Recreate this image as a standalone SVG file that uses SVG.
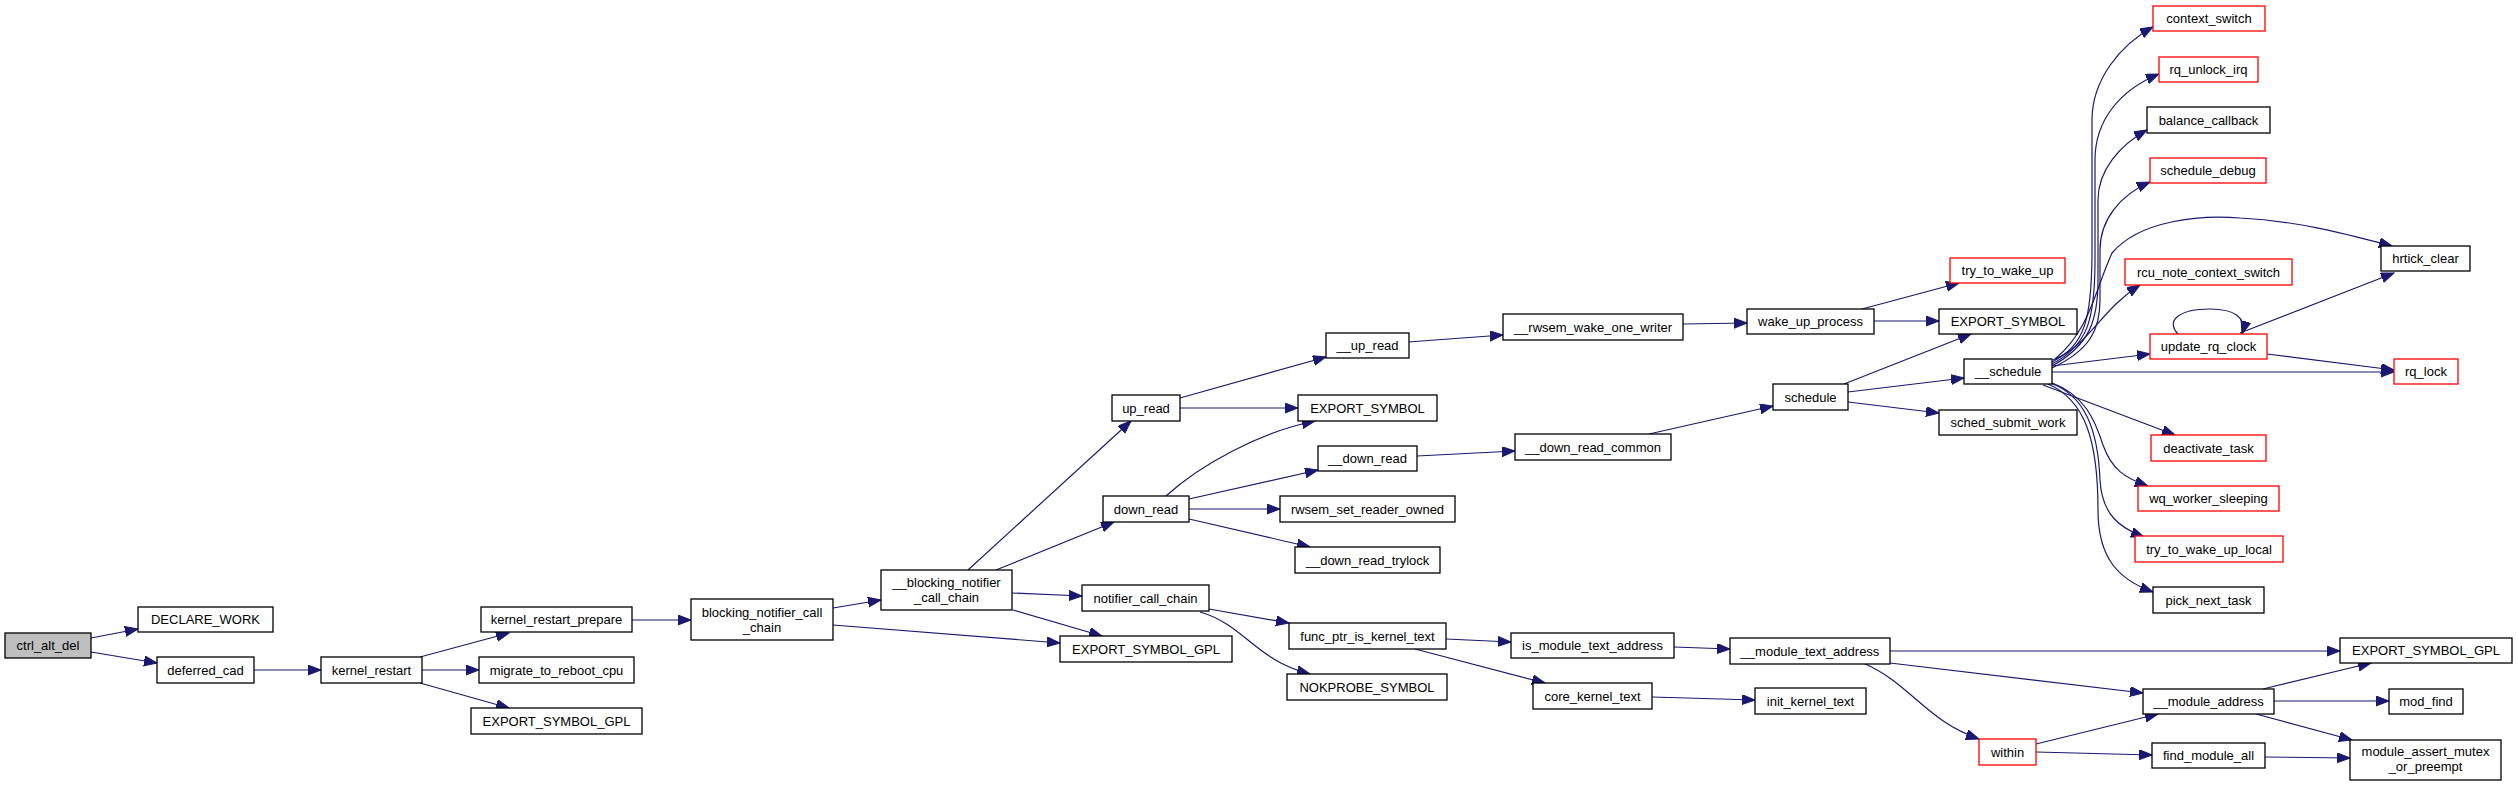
<svg xmlns="http://www.w3.org/2000/svg" width="2517" height="786" viewBox="0 0 2517 786">
<defs>
<style>
.n rect{fill:#fff;stroke:#000;stroke-width:1.3}
.n.r rect{stroke:#ff0000}
.n.g rect{fill:#bfbfbf}
.n text{font-family:"Liberation Sans",Arial,sans-serif;font-size:13px;fill:#000;text-anchor:middle}
#edges path{fill:none;stroke:#191970;stroke-width:1.2;marker-end:url(#ah)}
</style>
<marker id="ah" markerUnits="userSpaceOnUse" markerWidth="14" markerHeight="11" refX="13" refY="5" orient="auto">
<path d="M0,0 L13,5 L0,10 z" fill="#191970" stroke="#191970" stroke-width="1"/>
</marker>
</defs>
<rect width="2517" height="786" fill="#fff"/>
<g id="edges">
<path d="M91,638 L138,629"/>
<path d="M91,652 L157,663"/>
<path d="M254,670 L321,670"/>
<path d="M420,657 L509,633"/>
<path d="M422,670 L479,670"/>
<path d="M420,683 L509,708"/>
<path d="M632,620 L691,620"/>
<path d="M833,608 L881,600"/>
<path d="M833,625 L1060,643"/>
<path d="M968,570 L1131,421"/>
<path d="M996,570 L1114,522"/>
<path d="M1012,593 L1082,596"/>
<path d="M1013,610 L1102,636"/>
<path d="M1180,398 L1326,357"/>
<path d="M1180,408 L1298,408"/>
<path d="M1166,496 C1200,465 1260,432 1315,421"/>
<path d="M1189,499 L1318,470"/>
<path d="M1189,509 L1280,509"/>
<path d="M1189,519 L1310,547"/>
<path d="M1209,609 L1289,623"/>
<path d="M1200,612 C1245,625 1255,660 1310,674"/>
<path d="M1408,342 L1503,335"/>
<path d="M1683,324 L1747,323"/>
<path d="M1862,309 L1959,283"/>
<path d="M1874,321 L1939,321"/>
<path d="M1417,456 L1515,451"/>
<path d="M1649,434 L1773,406"/>
<path d="M1844,384 L1971,334"/>
<path d="M1848,392 L1964,378"/>
<path d="M1848,402 L1939,413"/>
<path d="M1446,639 L1511,642"/>
<path d="M1415,649 L1545,683"/>
<path d="M1674,647 L1730,649"/>
<path d="M1652,697 L1755,700"/>
<path d="M1890,651 L2340,651"/>
<path d="M1890,663 L2143,693"/>
<path d="M1863,663 C1910,683 1925,720 1979,739"/>
<path d="M2263,689 L2371,663"/>
<path d="M2274,701 L2389,701"/>
<path d="M2256,714 L2352,740"/>
<path d="M2036,744 L2158,714"/>
<path d="M2036,752 L2152,755"/>
<path d="M2265,757 L2350,758"/>
<path d="M2052,362 C2085,345 2092,320 2092,250 L2092,120 C2092,80 2120,45 2153,27"/>
<path d="M2052,364 C2088,345 2095,320 2095,260 L2095,160 C2095,120 2120,90 2159,74"/>
<path d="M2052,366 C2090,345 2098,320 2098,280 L2098,200 C2098,170 2120,145 2147,130"/>
<path d="M2052,368 C2090,350 2100,330 2100,300 L2100,250 C2100,220 2120,195 2150,182"/>
<path d="M2055,359 C2090,330 2095,290 2112,253 C2140,220 2200,215 2240,218 C2300,221 2350,235 2392,246"/>
<path d="M2053,360 C2090,345 2100,310 2140,285"/>
<path d="M2052,366 L2150,354"/>
<path d="M2052,372 L2394,372"/>
<path d="M2267,354 L2394,370"/>
<path d="M2240,333 L2394,273"/>
<path d="M2178,334 C2165,320 2180,309 2210,309 C2235,309 2247,318 2242,334"/>
<path d="M2043,385 L2175,435"/>
<path d="M2050,382 C2085,395 2095,420 2103,445 C2112,470 2125,478 2148,486"/>
<path d="M2050,383 C2085,395 2098,430 2100,480 C2102,515 2120,528 2144,537"/>
<path d="M2048,384 C2085,400 2098,440 2098,510 C2098,560 2120,580 2153,592"/>
</g>
<g id="ctrl_alt_del" class="n g"><rect x="5" y="633" width="86" height="25"/><text x="48" y="650">ctrl_alt_del</text></g>
<g id="DECLARE_WORK" class="n"><rect x="138" y="607" width="135" height="25"/><text x="205.5" y="624">DECLARE_WORK</text></g>
<g id="deferred_cad" class="n"><rect x="157" y="657" width="97" height="26"/><text x="205.5" y="674.5">deferred_cad</text></g>
<g id="kernel_restart" class="n"><rect x="321" y="657" width="101" height="26"/><text x="371.5" y="674.5">kernel_restart</text></g>
<g id="kernel_restart_prepare" class="n"><rect x="481" y="607" width="151" height="25"/><text x="556.5" y="624">kernel_restart_prepare</text></g>
<g id="migrate_to_reboot_cpu" class="n"><rect x="479" y="657" width="155" height="26"/><text x="556.5" y="674.5">migrate_to_reboot_cpu</text></g>
<g id="EXPORT_SYMBOL_GPL_a" class="n"><rect x="471" y="708" width="171" height="26"/><text x="556.5" y="725.5">EXPORT_SYMBOL_GPL</text></g>
<g id="blocking_notifier_call_chain" class="n"><rect x="691" y="599" width="142" height="41"/><text x="762" y="616.5">blocking_notifier_call</text><text x="762" y="631.5">_chain</text></g>
<g id="__blocking_notifier_call_chain" class="n"><rect x="881" y="570" width="131" height="40"/><text x="946.5" y="586.5">__blocking_notifier</text><text x="946.5" y="601.5">_call_chain</text></g>
<g id="up_read" class="n"><rect x="1112" y="395" width="68" height="26"/><text x="1146" y="412.5">up_read</text></g>
<g id="down_read" class="n"><rect x="1103" y="496" width="86" height="26"/><text x="1146" y="513.5">down_read</text></g>
<g id="notifier_call_chain" class="n"><rect x="1082" y="585" width="127" height="26"/><text x="1145.5" y="602.5">notifier_call_chain</text></g>
<g id="EXPORT_SYMBOL_GPL_b" class="n"><rect x="1060" y="636" width="172" height="26"/><text x="1146" y="653.5">EXPORT_SYMBOL_GPL</text></g>
<g id="__up_read" class="n"><rect x="1326" y="333" width="83" height="25"/><text x="1367.5" y="350">__up_read</text></g>
<g id="EXPORT_SYMBOL_a" class="n"><rect x="1298" y="395" width="139" height="26"/><text x="1367.5" y="412.5">EXPORT_SYMBOL</text></g>
<g id="__down_read" class="n"><rect x="1318" y="446" width="99" height="25"/><text x="1367.5" y="463">__down_read</text></g>
<g id="rwsem_set_reader_owned" class="n"><rect x="1280" y="496" width="175" height="26"/><text x="1367.5" y="513.5">rwsem_set_reader_owned</text></g>
<g id="__down_read_trylock" class="n"><rect x="1295" y="547" width="145" height="26"/><text x="1367.5" y="564.5">__down_read_trylock</text></g>
<g id="func_ptr_is_kernel_text" class="n"><rect x="1289" y="623" width="157" height="26"/><text x="1367.5" y="640.5">func_ptr_is_kernel_text</text></g>
<g id="NOKPROBE_SYMBOL" class="n"><rect x="1287" y="674" width="160" height="26"/><text x="1367" y="691.5">NOKPROBE_SYMBOL</text></g>
<g id="__rwsem_wake_one_writer" class="n"><rect x="1503" y="314" width="180" height="26"/><text x="1593" y="331.5">__rwsem_wake_one_writer</text></g>
<g id="__down_read_common" class="n"><rect x="1515" y="434" width="156" height="26"/><text x="1593" y="451.5">__down_read_common</text></g>
<g id="is_module_text_address" class="n"><rect x="1511" y="633" width="163" height="25"/><text x="1592.5" y="650">is_module_text_address</text></g>
<g id="core_kernel_text" class="n"><rect x="1533" y="683" width="119" height="26"/><text x="1592.5" y="700.5">core_kernel_text</text></g>
<g id="wake_up_process" class="n"><rect x="1747" y="309" width="127" height="25"/><text x="1810.5" y="326">wake_up_process</text></g>
<g id="schedule" class="n"><rect x="1773" y="384" width="75" height="26"/><text x="1810.5" y="401.5">schedule</text></g>
<g id="__module_text_address" class="n"><rect x="1730" y="638" width="160" height="26"/><text x="1810" y="655.5">__module_text_address</text></g>
<g id="init_kernel_text" class="n"><rect x="1755" y="688" width="111" height="26"/><text x="1810.5" y="705.5">init_kernel_text</text></g>
<g id="try_to_wake_up" class="n r"><rect x="1950" y="258" width="115" height="25"/><text x="2007.5" y="275">try_to_wake_up</text></g>
<g id="EXPORT_SYMBOL_b" class="n"><rect x="1939" y="309" width="138" height="25"/><text x="2008" y="326">EXPORT_SYMBOL</text></g>
<g id="__schedule" class="n"><rect x="1964" y="359" width="88" height="25"/><text x="2008" y="376">__schedule</text></g>
<g id="sched_submit_work" class="n"><rect x="1939" y="410" width="138" height="25"/><text x="2008" y="427">sched_submit_work</text></g>
<g id="within" class="n r"><rect x="1979" y="739" width="57" height="26"/><text x="2007.5" y="756.5">within</text></g>
<g id="context_switch" class="n r"><rect x="2153" y="6" width="112" height="25"/><text x="2209" y="23">context_switch</text></g>
<g id="rq_unlock_irq" class="n r"><rect x="2159" y="57" width="99" height="25"/><text x="2208.5" y="74">rq_unlock_irq</text></g>
<g id="balance_callback" class="n"><rect x="2147" y="107" width="123" height="26"/><text x="2208.5" y="124.5">balance_callback</text></g>
<g id="schedule_debug" class="n r"><rect x="2150" y="158" width="116" height="25"/><text x="2208" y="175">schedule_debug</text></g>
<g id="rcu_note_context_switch" class="n r"><rect x="2125" y="259" width="167" height="26"/><text x="2208.5" y="276.5">rcu_note_context_switch</text></g>
<g id="update_rq_clock" class="n r"><rect x="2150" y="334" width="117" height="25"/><text x="2208.5" y="351">update_rq_clock</text></g>
<g id="deactivate_task" class="n r"><rect x="2151" y="435" width="115" height="26"/><text x="2208.5" y="452.5">deactivate_task</text></g>
<g id="wq_worker_sleeping" class="n r"><rect x="2138" y="486" width="141" height="25"/><text x="2208.5" y="503">wq_worker_sleeping</text></g>
<g id="try_to_wake_up_local" class="n r"><rect x="2135" y="536" width="148" height="26"/><text x="2209" y="553.5">try_to_wake_up_local</text></g>
<g id="pick_next_task" class="n"><rect x="2153" y="587" width="111" height="26"/><text x="2208.5" y="604.5">pick_next_task</text></g>
<g id="__module_address" class="n"><rect x="2143" y="689" width="131" height="25"/><text x="2208.5" y="706">__module_address</text></g>
<g id="find_module_all" class="n"><rect x="2152" y="743" width="113" height="25"/><text x="2208.5" y="760">find_module_all</text></g>
<g id="hrtick_clear" class="n"><rect x="2381" y="246" width="89" height="25"/><text x="2425.5" y="263">hrtick_clear</text></g>
<g id="rq_lock" class="n r"><rect x="2394" y="359" width="64" height="25"/><text x="2426" y="376">rq_lock</text></g>
<g id="EXPORT_SYMBOL_GPL_c" class="n"><rect x="2340" y="638" width="172" height="25"/><text x="2426" y="655">EXPORT_SYMBOL_GPL</text></g>
<g id="mod_find" class="n"><rect x="2389" y="689" width="74" height="25"/><text x="2426" y="706">mod_find</text></g>
<g id="module_assert_mutex_or_preempt" class="n"><rect x="2350" y="740" width="151" height="40"/><text x="2425.5" y="756">module_assert_mutex</text><text x="2425.5" y="771">_or_preempt</text></g>
</svg>
